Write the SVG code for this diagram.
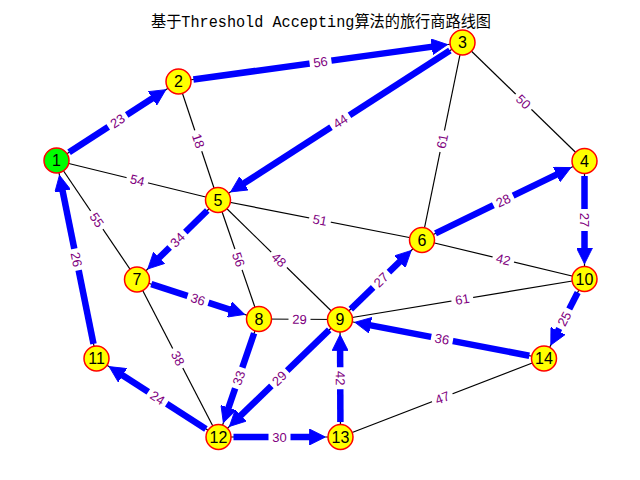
<svg xmlns="http://www.w3.org/2000/svg" width="640" height="480" viewBox="0 0 640 480">
<style>
.thin{stroke:#000;stroke-width:1.2;fill:none}
.tour{stroke:#0000ff;stroke-width:6.5;fill:none;marker-end:url(#ah)}
.nd{fill:#ffff00;stroke:#ff0000;stroke-width:1.5}
.start{fill:#00ff00}
.nt{font-family:"Liberation Sans",Arial,sans-serif;font-size:16px;fill:#000;text-anchor:middle}
.lb rect{fill:#fff;stroke:none}
.lb text{font-family:"Liberation Sans",Arial,sans-serif;font-size:13px;fill:#800080;text-anchor:middle}
.title{font-family:"Liberation Mono","Noto Sans CJK SC",monospace;font-size:16px;fill:#000;text-anchor:middle}
</style>
<defs>
<marker id="ah" markerUnits="userSpaceOnUse" markerWidth="16" markerHeight="16" viewBox="0 0 15 15" refX="1" refY="7.5" orient="auto">
<path d="M0,0 L15,7.5 L0,15 z" fill="#0000ff" stroke="#0000ff" stroke-width="0.8" stroke-linejoin="round"/>
</marker>
</defs>
<rect width="640" height="480" fill="#fff"/>
<text class="title" x="321" y="27" textLength="340" lengthAdjust="spacingAndGlyphs">基于Threshold Accepting算法的旅行商路线图</text>
<g id="connectors">
<g id="thin-edges">
<line class="thin" x1="56.5" y1="160.5" x2="178.5" y2="81.5"/>
<line class="thin" x1="178.5" y1="81.5" x2="462.5" y2="42.5"/>
<line class="thin" x1="462.5" y1="42.5" x2="218" y2="200"/>
<line class="thin" x1="56.5" y1="160.5" x2="218" y2="200"/>
<line class="thin" x1="56.5" y1="160.5" x2="137" y2="279.5"/>
<line class="thin" x1="178.5" y1="81.5" x2="218" y2="200"/>
<line class="thin" x1="462.5" y1="42.5" x2="422" y2="240"/>
<line class="thin" x1="462.5" y1="42.5" x2="584.5" y2="161"/>
<line class="thin" x1="218" y1="200" x2="422" y2="240"/>
<line class="thin" x1="218" y1="200" x2="137" y2="279.5"/>
<line class="thin" x1="218" y1="200" x2="259" y2="319"/>
<line class="thin" x1="218" y1="200" x2="340" y2="319.5"/>
<line class="thin" x1="422" y1="240" x2="584.5" y2="161"/>
<line class="thin" x1="422" y1="240" x2="584.5" y2="279"/>
<line class="thin" x1="422" y1="240" x2="340" y2="319.5"/>
<line class="thin" x1="584.5" y1="161" x2="584.5" y2="279"/>
<line class="thin" x1="137" y1="279.5" x2="259" y2="319"/>
<line class="thin" x1="137" y1="279.5" x2="218.5" y2="437"/>
<line class="thin" x1="259" y1="319" x2="340" y2="319.5"/>
<line class="thin" x1="259" y1="319" x2="218.5" y2="437"/>
<line class="thin" x1="340" y1="319.5" x2="218.5" y2="437"/>
<line class="thin" x1="340" y1="319.5" x2="340.5" y2="437"/>
<line class="thin" x1="340" y1="319.5" x2="584.5" y2="279"/>
<line class="thin" x1="340" y1="319.5" x2="544" y2="358.5"/>
<line class="thin" x1="584.5" y1="279" x2="544" y2="358.5"/>
<line class="thin" x1="218.5" y1="437" x2="340.5" y2="437"/>
<line class="thin" x1="218.5" y1="437" x2="96.5" y2="358.5"/>
<line class="thin" x1="96.5" y1="358.5" x2="56.5" y2="160.5"/>
<line class="thin" x1="340.5" y1="437" x2="544" y2="358.5"/>
</g>
<g id="tour">
<line class="tour" x1="69.1" y1="152.3" x2="153.3" y2="97.8"/>
<line class="tour" x1="193.4" y1="79.5" x2="432.8" y2="46.6"/>
<line class="tour" x1="449.9" y1="50.6" x2="243.2" y2="183.8"/>
<line class="tour" x1="207.3" y1="210.5" x2="158.4" y2="258.5"/>
<line class="tour" x1="151.3" y1="284.1" x2="230.5" y2="309.8"/>
<line class="tour" x1="254.1" y1="333.2" x2="228.2" y2="408.6"/>
<line class="tour" x1="233.5" y1="437" x2="310.5" y2="437"/>
<line class="tour" x1="340.4" y1="422" x2="340.1" y2="349.5"/>
<line class="tour" x1="350.8" y1="309.1" x2="400.5" y2="260.9"/>
<line class="tour" x1="435.5" y1="233.4" x2="557.5" y2="174.1"/>
<line class="tour" x1="584.5" y1="176" x2="584.5" y2="249"/>
<line class="tour" x1="577.7" y1="292.4" x2="557.6" y2="331.8"/>
<line class="tour" x1="529.3" y1="355.7" x2="369.5" y2="325.1"/>
<line class="tour" x1="329.2" y1="329.9" x2="240.1" y2="416.1"/>
<line class="tour" x1="205.9" y1="428.9" x2="121.7" y2="374.7"/>
<line class="tour" x1="93.5" y1="343.8" x2="62.4" y2="189.9"/>
</g>
</g>
<g id="nodes">
<g id="n1"><circle class="nd start" cx="56.5" cy="160.5" r="12.5"/><text class="nt" x="56.5" y="166.3">1</text></g>
<g id="n2"><circle class="nd" cx="178.5" cy="81.5" r="12.5"/><text class="nt" x="178.5" y="87.3">2</text></g>
<g id="n3"><circle class="nd" cx="462.5" cy="42.5" r="12.5"/><text class="nt" x="462.5" y="48.3">3</text></g>
<g id="n4"><circle class="nd" cx="584.5" cy="161" r="12.5"/><text class="nt" x="584.5" y="166.8">4</text></g>
<g id="n5"><circle class="nd" cx="218" cy="200" r="12.5"/><text class="nt" x="218" y="205.8">5</text></g>
<g id="n6"><circle class="nd" cx="422" cy="240" r="12.5"/><text class="nt" x="422" y="245.8">6</text></g>
<g id="n7"><circle class="nd" cx="137" cy="279.5" r="12.5"/><text class="nt" x="137" y="285.3">7</text></g>
<g id="n8"><circle class="nd" cx="259" cy="319" r="12.5"/><text class="nt" x="259" y="324.8">8</text></g>
<g id="n9"><circle class="nd" cx="340" cy="319.5" r="12.5"/><text class="nt" x="340" y="325.3">9</text></g>
<g id="n10"><circle class="nd" cx="584.5" cy="279" r="12.5"/><text class="nt" x="584.5" y="284.8">10</text></g>
<g id="n11"><circle class="nd" cx="96.5" cy="358.5" r="12.5"/><text class="nt" x="96.5" y="364.3">11</text></g>
<g id="n12"><circle class="nd" cx="218.5" cy="437" r="12.5"/><text class="nt" x="218.5" y="442.8">12</text></g>
<g id="n13"><circle class="nd" cx="340.5" cy="437" r="12.5"/><text class="nt" x="340.5" y="442.8">13</text></g>
<g id="n14"><circle class="nd" cx="544" cy="358.5" r="12.5"/><text class="nt" x="544" y="364.3">14</text></g>
</g>
<g id="edge-labels">
<g class="lb" transform="translate(117.5,121) rotate(-32.9)"><rect x="-11" y="-8" width="22" height="16" rx="3"/><text y="4.6">23</text></g>
<g class="lb" transform="translate(320.5,62) rotate(-7.8)"><rect x="-11" y="-8" width="22" height="16" rx="3"/><text y="4.6">56</text></g>
<g class="lb" transform="translate(340.3,121.3) rotate(-32.8)"><rect x="-11" y="-8" width="22" height="16" rx="3"/><text y="4.6">44</text></g>
<g class="lb" transform="translate(137.3,180.3) rotate(13.7)"><rect x="-11" y="-8" width="22" height="16" rx="3"/><text y="4.6">54</text></g>
<g class="lb" transform="translate(96.8,220) rotate(55.9)"><rect x="-11" y="-8" width="22" height="16" rx="3"/><text y="4.6">55</text></g>
<g class="lb" transform="translate(198.3,140.8) rotate(71.6)"><rect x="-11" y="-8" width="22" height="16" rx="3"/><text y="4.6">18</text></g>
<g class="lb" transform="translate(442.3,141.3) rotate(-78.4)"><rect x="-11" y="-8" width="22" height="16" rx="3"/><text y="4.6">61</text></g>
<g class="lb" transform="translate(523.5,101.8) rotate(44.2)"><rect x="-11" y="-8" width="22" height="16" rx="3"/><text y="4.6">50</text></g>
<g class="lb" transform="translate(320,220) rotate(11.1)"><rect x="-11" y="-8" width="22" height="16" rx="3"/><text y="4.6">51</text></g>
<g class="lb" transform="translate(177.5,239.8) rotate(-44.5)"><rect x="-11" y="-8" width="22" height="16" rx="3"/><text y="4.6">34</text></g>
<g class="lb" transform="translate(238.5,259.5) rotate(71)"><rect x="-11" y="-8" width="22" height="16" rx="3"/><text y="4.6">56</text></g>
<g class="lb" transform="translate(279,259.8) rotate(44.4)"><rect x="-11" y="-8" width="22" height="16" rx="3"/><text y="4.6">48</text></g>
<g class="lb" transform="translate(503.3,200.5) rotate(-25.9)"><rect x="-11" y="-8" width="22" height="16" rx="3"/><text y="4.6">28</text></g>
<g class="lb" transform="translate(503.3,259.5) rotate(13.5)"><rect x="-11" y="-8" width="22" height="16" rx="3"/><text y="4.6">42</text></g>
<g class="lb" transform="translate(381,279.8) rotate(-44.1)"><rect x="-11" y="-8" width="22" height="16" rx="3"/><text y="4.6">27</text></g>
<g class="lb" transform="translate(584.5,220) rotate(90)"><rect x="-11" y="-8" width="22" height="16" rx="3"/><text y="4.6">27</text></g>
<g class="lb" transform="translate(198,299.3) rotate(17.9)"><rect x="-11" y="-8" width="22" height="16" rx="3"/><text y="4.6">36</text></g>
<g class="lb" transform="translate(177.8,358.3) rotate(62.6)"><rect x="-11" y="-8" width="22" height="16" rx="3"/><text y="4.6">38</text></g>
<g class="lb" transform="translate(299.5,319.3) rotate(0.4)"><rect x="-11" y="-8" width="22" height="16" rx="3"/><text y="4.6">29</text></g>
<g class="lb" transform="translate(238.8,378) rotate(-71.1)"><rect x="-11" y="-8" width="22" height="16" rx="3"/><text y="4.6">33</text></g>
<g class="lb" transform="translate(279.3,378.3) rotate(-44)"><rect x="-11" y="-8" width="22" height="16" rx="3"/><text y="4.6">29</text></g>
<g class="lb" transform="translate(340.3,378.3) rotate(89.8)"><rect x="-11" y="-8" width="22" height="16" rx="3"/><text y="4.6">42</text></g>
<g class="lb" transform="translate(462.3,299.3) rotate(-9.4)"><rect x="-11" y="-8" width="22" height="16" rx="3"/><text y="4.6">61</text></g>
<g class="lb" transform="translate(442,339) rotate(10.8)"><rect x="-11" y="-8" width="22" height="16" rx="3"/><text y="4.6">36</text></g>
<g class="lb" transform="translate(564.3,318.8) rotate(-63)"><rect x="-11" y="-8" width="22" height="16" rx="3"/><text y="4.6">25</text></g>
<g class="lb" transform="translate(279.5,437) rotate(0)"><rect x="-11" y="-8" width="22" height="16" rx="3"/><text y="4.6">30</text></g>
<g class="lb" transform="translate(157.5,397.8) rotate(32.8)"><rect x="-11" y="-8" width="22" height="16" rx="3"/><text y="4.6">24</text></g>
<g class="lb" transform="translate(76.5,259.5) rotate(78.6)"><rect x="-11" y="-8" width="22" height="16" rx="3"/><text y="4.6">26</text></g>
<g class="lb" transform="translate(442.3,397.8) rotate(-21.1)"><rect x="-11" y="-8" width="22" height="16" rx="3"/><text y="4.6">47</text></g>
</g>
</svg>
